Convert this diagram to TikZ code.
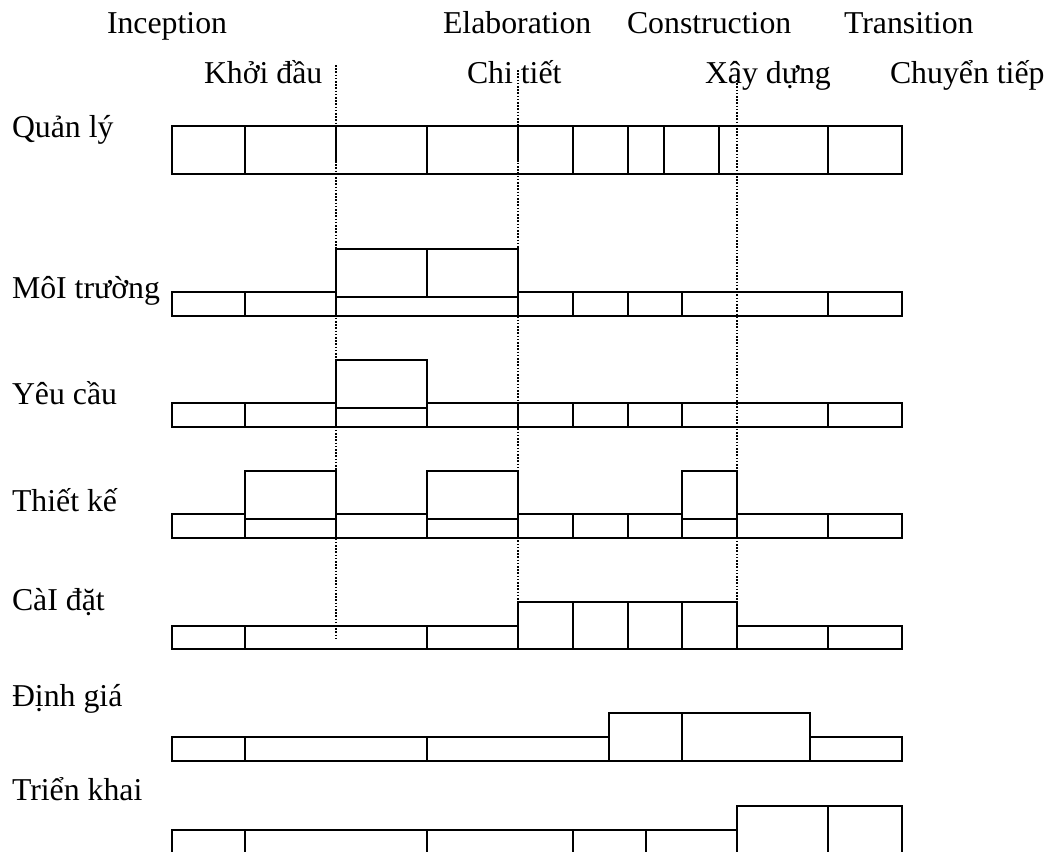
\documentclass[tikz,border=0pt]{standalone}
\usepackage{fontspec}
\setmainfont{Liberation Serif}
\begin{document}
\begin{tikzpicture}[x=1bp,y=-1bp,
  lbl/.style={anchor=base west,inner sep=0pt,outer sep=0pt,font=\fontsize{31.8bp}{38bp}\selectfont},
  box/.style={draw=black,line width=1.8bp},
  phase/.style={draw=black,line width=1.4bp,dash pattern=on 1.6bp off 1.6bp}]
\useasboundingbox (0,0) rectangle (1058,852);

% phase titles
\node[lbl] (inc) at (107,33) {Inception};
\node[lbl] (ela) at (443,33) {Elaboration};
\node[lbl] (con) at (627,33) {Construction};
\node[lbl] (tra) at (844,33) {Transition};
\node[lbl] (khoi) at (204,83) {Khởi đầu};
\node[lbl] (chit) at (467,83) {Chi tiết};
\node[lbl] (xayd) at (705,83) {Xây dựng};
\node[lbl] (chuy) at (890,83) {Chuyển tiếp};

% workflow names
\node[lbl] (ql) at (12,137) {Quản lý};
\node[lbl] (mt) at (12,298) {MôI trường};
\node[lbl] (yc) at (12,404) {Yêu cầu};
\node[lbl] (tk) at (12,511) {Thiết kế};
\node[lbl] (cd) at (12,610) {CàI đặt};
\node[lbl] (dg) at (12,706) {Định giá};
\node[lbl] (tkh) at (12,800) {Triển khai};

% phase boundaries
\coordinate (p1t) at (336,65);  \coordinate (p1b) at (336,639);
\coordinate (p2t) at (518,70);  \coordinate (p2b) at (518,602);
\coordinate (p3t) at (737,80);  \coordinate (p3b) at (737,602);
\draw[phase] (p1t) -- (p1b);
\draw[phase] (p2t) -- (p2b);
\draw[phase] (p3t) -- (p3b);

% Quan ly
\draw[box] (172,126) rectangle (902,174);
\foreach \x in {245,427,573,628,664,719,828}
  \draw[box] (\x,126) -- (\x,174);
\draw[box] (336,126) -- (336,162);
\draw[box] (518,126) -- (518,162);

% Moi truong
\foreach \a/\b in {172/245,245/336,518/573,573/628,628/682,682/828,828/902}
  \draw[box] (\a,292) rectangle (\b,316);
\foreach \a/\b in {336/427,427/518}
  \draw[box] (\a,249) rectangle (\b,297);
\draw[box] (336,297) rectangle (518,316);

% Yeu cau
\foreach \a/\b in {172/245,245/336,427/518,518/573,573/628,628/682,682/828,828/902}
  \draw[box] (\a,403) rectangle (\b,427);
\draw[box] (336,360) rectangle (427,408);
\draw[box] (336,408) rectangle (427,427);

% Thiet ke
\foreach \a/\b in {172/245,336/427,518/573,573/628,628/682,737/828,828/902}
  \draw[box] (\a,514) rectangle (\b,538);
\foreach \a/\b in {245/336,427/518,682/737}{
  \draw[box] (\a,471) rectangle (\b,519);
  \draw[box] (\a,519) rectangle (\b,538);
}

% Cai dat
\foreach \a/\b in {172/245,245/427,427/518,737/828,828/902}
  \draw[box] (\a,626) rectangle (\b,649);
\foreach \a/\b in {518/573,573/628,628/682,682/737}
  \draw[box] (\a,602) rectangle (\b,649);

% Dinh gia
\foreach \a/\b in {172/245,245/427,427/609,810/902}
  \draw[box] (\a,737) rectangle (\b,761);
\foreach \a/\b in {609/682,682/810}
  \draw[box] (\a,713) rectangle (\b,761);

% Trien khai (runs past the lower edge)
\begin{scope}
\clip (0,0) rectangle (1058,852);
\foreach \a/\b in {172/245,245/427,427/573,573/646,646/737}
  \draw[box] (\a,830) rectangle (\b,880);
\foreach \a/\b in {737/828,828/902}
  \draw[box] (\a,806) rectangle (\b,880);
\end{scope}
\end{tikzpicture}
\end{document}
